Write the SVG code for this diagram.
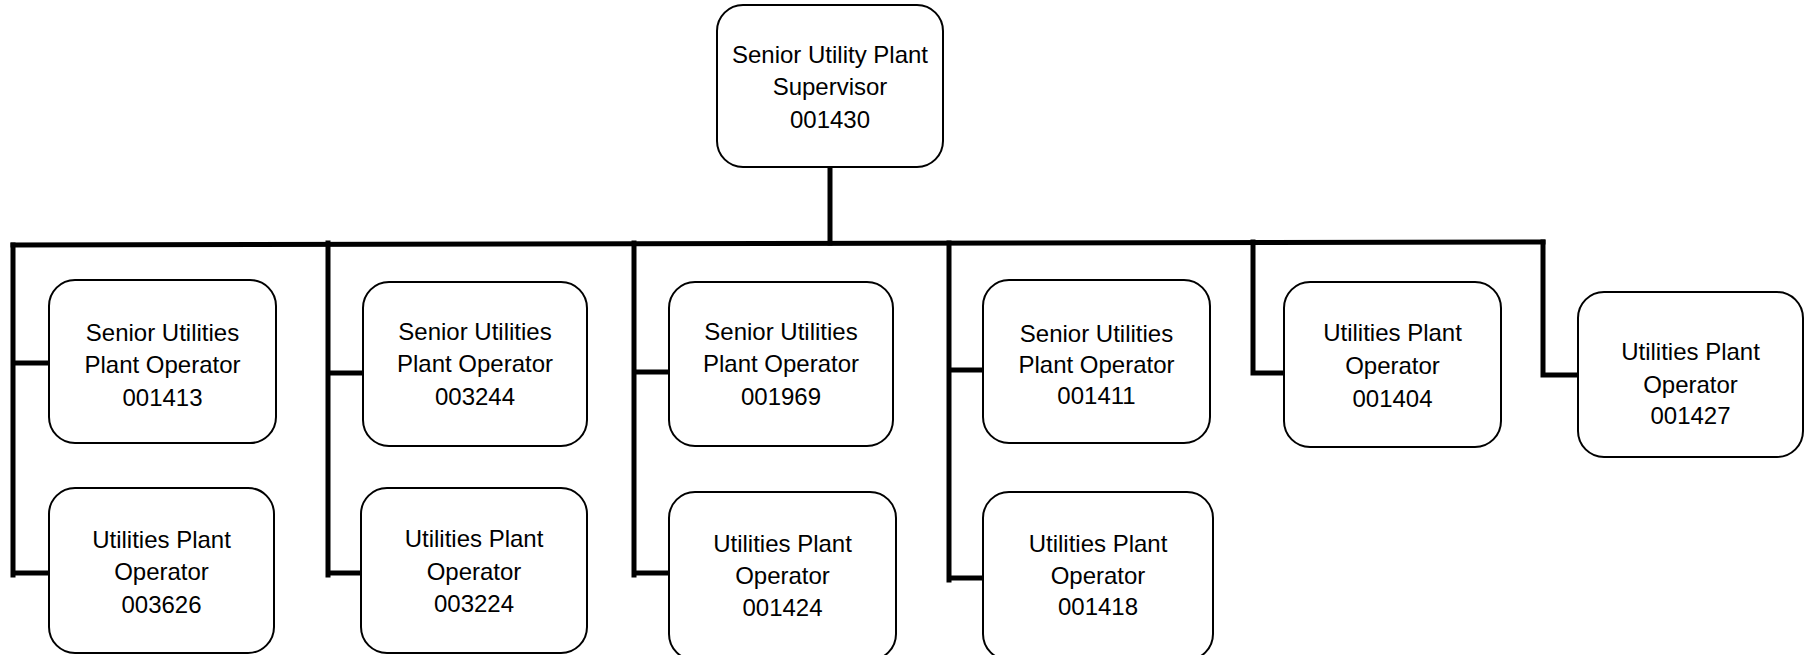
<svg xmlns="http://www.w3.org/2000/svg" width="1811" height="655" viewBox="0 0 1811 655">
<style>
.box{fill:#fff;stroke:#000;stroke-width:2}
.lbl{font-family:"Liberation Sans",Arial,sans-serif;font-size:24px;fill:#000;text-anchor:middle}
.conn{fill:none;stroke:#000;stroke-width:5;stroke-linecap:square;stroke-linejoin:miter}
</style>
<rect width="1811" height="655" fill="#fff"/>
<g id="connectors">
<path class="conn" d="M830 167 V243"/>
<path class="conn" d="M13 245 L1543 242"/>
<path class="conn" d="M13 245 V575 M13 363 H49 M13 573 H49"/>
<path class="conn" d="M328 243 V575 M328 373 H363 M328 573 H361"/>
<path class="conn" d="M634 243 V575 M634 372 H669 M634 573 H669"/>
<path class="conn" d="M949 243 V580 M949 370 H983 M949 578 H983"/>
<path class="conn" d="M1253 242 V373 H1284"/>
<path class="conn" d="M1543 242 V375 H1578"/>
</g>
<g id="n001430"><rect class="box" x="717" y="5" width="226" height="162" rx="26"/><text class="lbl"><tspan x="830" y="63">Senior Utility Plant</tspan><tspan x="830" y="95">Supervisor</tspan><tspan x="830" y="128">001430</tspan></text></g>
<g id="n001413"><rect class="box" x="49" y="280" width="227" height="163" rx="26"/><text class="lbl"><tspan x="162.5" y="341">Senior Utilities</tspan><tspan x="162.5" y="373">Plant Operator</tspan><tspan x="162.5" y="406">001413</tspan></text></g>
<g id="n003626"><rect class="box" x="49" y="488" width="225" height="165" rx="26"/><text class="lbl"><tspan x="161.5" y="548">Utilities Plant</tspan><tspan x="161.5" y="580">Operator</tspan><tspan x="161.5" y="613">003626</tspan></text></g>
<g id="n003244"><rect class="box" x="363" y="282" width="224" height="164" rx="26"/><text class="lbl"><tspan x="475" y="340">Senior Utilities</tspan><tspan x="475" y="372">Plant Operator</tspan><tspan x="475" y="405">003244</tspan></text></g>
<g id="n003224"><rect class="box" x="361" y="488" width="226" height="165" rx="26"/><text class="lbl"><tspan x="474" y="547">Utilities Plant</tspan><tspan x="474" y="580">Operator</tspan><tspan x="474" y="612">003224</tspan></text></g>
<g id="n001969"><rect class="box" x="669" y="282" width="224" height="164" rx="26"/><text class="lbl"><tspan x="781" y="340">Senior Utilities</tspan><tspan x="781" y="372">Plant Operator</tspan><tspan x="781" y="405">001969</tspan></text></g>
<g id="n001424"><rect class="box" x="669" y="492" width="227" height="168" rx="26"/><text class="lbl"><tspan x="782.5" y="552">Utilities Plant</tspan><tspan x="782.5" y="584">Operator</tspan><tspan x="782.5" y="616">001424</tspan></text></g>
<g id="n001411"><rect class="box" x="983" y="280" width="227" height="163" rx="26"/><text class="lbl"><tspan x="1096.5" y="342">Senior Utilities</tspan><tspan x="1096.5" y="373">Plant Operator</tspan><tspan x="1096.5" y="404">001411</tspan></text></g>
<g id="n001418"><rect class="box" x="983" y="492" width="230" height="168" rx="26"/><text class="lbl"><tspan x="1098" y="552">Utilities Plant</tspan><tspan x="1098" y="584">Operator</tspan><tspan x="1098" y="615">001418</tspan></text></g>
<g id="n001404"><rect class="box" x="1284" y="282" width="217" height="165" rx="26"/><text class="lbl"><tspan x="1392.5" y="341">Utilities Plant</tspan><tspan x="1392.5" y="374">Operator</tspan><tspan x="1392.5" y="407">001404</tspan></text></g>
<g id="n001427"><rect class="box" x="1578" y="292" width="225" height="165" rx="26"/><text class="lbl"><tspan x="1690.5" y="360">Utilities Plant</tspan><tspan x="1690.5" y="393">Operator</tspan><tspan x="1690.5" y="424">001427</tspan></text></g>
</svg>
